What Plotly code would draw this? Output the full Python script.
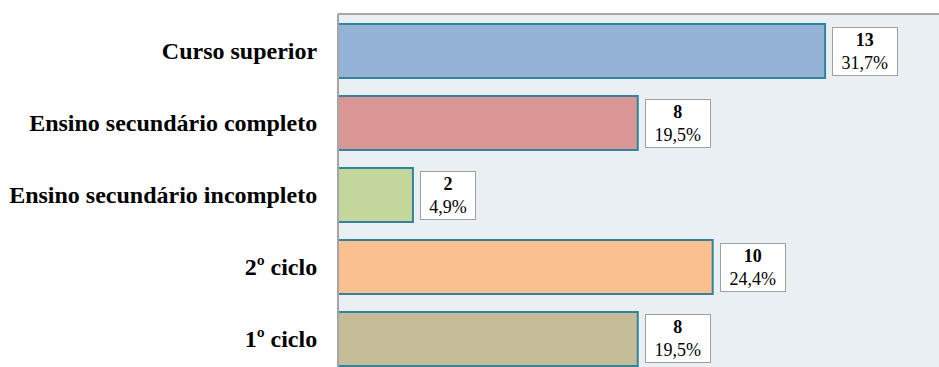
import plotly.graph_objects as go

# Education level counts and shares
categories = [
    "Curso superior",
    "Ensino secundário completo",
    "Ensino secundário incompleto",
    "2º ciclo",
    "1º ciclo",
]
counts = [13, 8, 2, 10, 8]
percents = ["31,7%", "19,5%", "4,9%", "24,4%", "19,5%"]
bar_colors = ["#95B3D7", "#D99694", "#C3D69B", "#FAC090", "#C4BD97"]

SERIF = "Liberation Serif"

fig = go.Figure(
    go.Bar(
        x=counts,
        y=categories,
        orientation="h",
        width=0.75,
        marker=dict(color=bar_colors, line=dict(color="#31849B", width=2)),
        hoverinfo="skip",
    )
)

# Value boxes next to each bar
for cat, n, pct in zip(categories, counts, percents):
    fig.add_annotation(
        x=n,
        y=cat,
        xref="x",
        yref="y",
        text=f"<b>{n}</b><br>{pct}",
        showarrow=False,
        xanchor="left",
        yanchor="middle",
        xshift=7,
        align="center",
        width=9.5 * len(pct) + 12,
        font=dict(family=SERIF, size=18, color="#000000"),
        bgcolor="#FFFFFF",
        bordercolor="#A0A0A0",
        borderwidth=1,
        borderpad=2,
    )

# Plot frame on the left and top edges
fig.add_shape(type="line", xref="paper", yref="paper", x0=0, x1=0, y0=0, y1=1,
              line=dict(color="#A6A6A6", width=2))
fig.add_shape(type="line", xref="paper", yref="paper", x0=0, x1=1, y0=1, y1=1,
              line=dict(color="#A6A6A6", width=2))

fig.update_layout(
    width=939,
    height=367,
    margin=dict(l=338, r=0, t=14, b=0, pad=0, autoexpand=False),
    paper_bgcolor="#FFFFFF",
    plot_bgcolor="#E9EFF3",
    showlegend=False,
    font=dict(family=SERIF),
    xaxis=dict(range=[0, 16.04], visible=False, fixedrange=True),
    yaxis=dict(
        type="category",
        categoryorder="array",
        categoryarray=categories,
        range=[4.389, -0.514],
        showgrid=False,
        zeroline=False,
        showline=False,
        ticks="outside",
        ticklen=15,
        tickcolor="rgba(0,0,0,0)",
        tickfont=dict(family=SERIF, size=24, color="#000000"),
        fixedrange=True,
    ),
)
fig.update_yaxes(tickprefix="<b>", ticksuffix="</b>")

fig.write_html("out.html")
